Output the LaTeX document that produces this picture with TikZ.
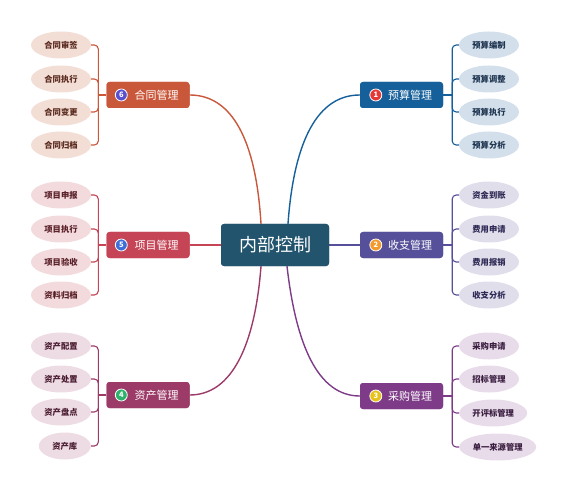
\documentclass[tikz,border=0pt]{standalone}
\usepackage{fontspec}
\newfontfamily\cjk{Noto Sans CJK SC}
\usetikzlibrary{shapes.geometric}
\definecolor{cCenter}{HTML}{22546E}
\definecolor{cA}{HTML}{15609A}\definecolor{lA}{HTML}{D3DFEB}\definecolor{tA}{HTML}{1F3550}
\definecolor{cB}{HTML}{56509A}\definecolor{lB}{HTML}{E1DEEC}\definecolor{tB}{HTML}{2E2A55}
\definecolor{cC}{HTML}{7E3C88}\definecolor{lC}{HTML}{E9DCEA}\definecolor{tC}{HTML}{3A1E40}
\definecolor{cF}{HTML}{C9573A}\definecolor{lF}{HTML}{F3DED6}\definecolor{tF}{HTML}{5A2A1E}
\definecolor{cE}{HTML}{C54455}\definecolor{lE}{HTML}{F2DADD}\definecolor{tE}{HTML}{5A2028}
\definecolor{cD}{HTML}{9C3B68}\definecolor{lD}{HTML}{EEDCE4}\definecolor{tD}{HTML}{4A1C30}
\definecolor{n1}{HTML}{E53935}\definecolor{n2}{HTML}{F39A2B}\definecolor{n3}{HTML}{E8C21A}
\definecolor{n4}{HTML}{2DB36B}\definecolor{n5}{HTML}{3E6FD8}\definecolor{n6}{HTML}{5A4FCF}
\tikzset{
  centerbox/.style={rectangle, rounded corners=3pt, fill=cCenter, minimum width=108pt, minimum height=42pt, inner sep=0pt, text=white, font=\cjk\fontsize{18}{20}\selectfont},
  branchbox/.style={rectangle, rounded corners=3pt, fill=#1, minimum width=83pt, minimum height=26pt, inner sep=0pt},
  branchlabel/.style={anchor=west, inner sep=0pt, text=white, font=\cjk\fontsize{11}{13}\selectfont},
  numdot/.style={circle, fill=#1, draw=white, line width=0.8pt, minimum size=12pt, inner sep=0pt, text=white, font=\cjk\bfseries\fontsize{7.5}{8}\selectfont},
  leaf/.style={ellipse, fill=#1, minimum width=60pt, minimum height=27pt, inner sep=0pt, font=\cjk\bfseries\fontsize{8.3}{9}\selectfont},
  trunk/.style={draw=#1, line width=1.4pt},
  twig/.style={draw=#1, line width=1.1pt, rounded corners=4pt},
}
\begin{document}
\begin{tikzpicture}[x=1pt, y=-1pt]
\useasboundingbox (0,0) rectangle (567,494);
% node positions
\node[centerbox] (c) at (275,245) {内部控制};
\node[branchbox=cA] (b1) at (401.5,95) {};
\node[branchbox=cB] (b2) at (401.5,245) {};
\node[branchbox=cC] (b3) at (401.5,396) {};
\node[branchbox=cF] (b6) at (148,95) {};
\node[branchbox=cE] (b5) at (148,245) {};
\node[branchbox=cD] (b4) at (148,395) {};
% trunks
\draw[trunk=cA] ([xshift=13pt]c.north) .. controls (294,140) and (318,95) .. (b1.west);
\draw[trunk=cF] ([xshift=-14pt]c.north) .. controls (256,140) and (232,95) .. (b6.east);
\draw[trunk=cC] ([xshift=12pt]c.south) .. controls (296,345) and (318,396) .. (b3.west);
\draw[trunk=cD] ([xshift=-14pt]c.south) .. controls (255,345) and (232,395) .. (b4.east);
\draw[trunk=cB] (c.east) -- (b2.west);
\draw[trunk=cE] (c.west) -- (b5.east);
% redraw boxes on top of the trunks
\node[centerbox] at (c) {内部控制};
\node[branchbox=cA] at (b1) {};
\node[branchbox=cB] at (b2) {};
\node[branchbox=cC] at (b3) {};
\node[branchbox=cF] at (b6) {};
\node[branchbox=cE] at (b5) {};
\node[branchbox=cD] at (b4) {};
% number dots and labels
\node[numdot=n1] at ([xshift=16pt]b1.west) {1};
\node[branchlabel] at ([xshift=28pt]b1.west) {预算管理};
\node[numdot=n2] at ([xshift=16pt]b2.west) {2};
\node[branchlabel] at ([xshift=28pt]b2.west) {收支管理};
\node[numdot=n3] at ([xshift=16pt]b3.west) {3};
\node[branchlabel] at ([xshift=28pt]b3.west) {采购管理};
\node[numdot=n6] at ([xshift=15pt]b6.west) {6};
\node[branchlabel] at ([xshift=28pt]b6.west) {合同管理};
\node[numdot=n5] at ([xshift=15pt]b5.west) {5};
\node[branchlabel] at ([xshift=28pt]b5.west) {项目管理};
\node[numdot=n4] at ([xshift=15pt]b4.west) {4};
\node[branchlabel] at ([xshift=28pt]b4.west) {资产管理};
% leaves right
\node[leaf=lA, text=tA] (a1) at (489,45) {预算编制};
\node[leaf=lA, text=tA] (a2) at (489,79) {预算调整};
\node[leaf=lA, text=tA] (a3) at (489,112) {预算执行};
\node[leaf=lA, text=tA] (a4) at (489,145) {预算分析};
\node[leaf=lB, text=tB] (s1) at (489,195) {资金到账};
\node[leaf=lB, text=tB] (s2) at (489,229) {费用申请};
\node[leaf=lB, text=tB] (s3) at (489,262) {费用报销};
\node[leaf=lB, text=tB] (s4) at (489,295) {收支分析};
\node[leaf=lC, text=tC] (p1) at (489,346) {采购申请};
\node[leaf=lC, text=tC] (p2) at (489,379) {招标管理};
\node[leaf=lC, text=tC, minimum width=68pt, anchor=west] (p3) at (459,413) {开评标管理};
\node[leaf=lC, text=tC, minimum width=77pt, anchor=west] (p4) at (459,447) {单一来源管理};
% leaves left
\node[leaf=lF, text=tF] (h1) at (61,45) {合同审签};
\node[leaf=lF, text=tF] (h2) at (61,79) {合同执行};
\node[leaf=lF, text=tF] (h3) at (61,112) {合同变更};
\node[leaf=lF, text=tF] (h4) at (61,145) {合同归档};
\node[leaf=lE, text=tE] (x1) at (61,195) {项目申报};
\node[leaf=lE, text=tE] (x2) at (61,229) {项目执行};
\node[leaf=lE, text=tE] (x3) at (61,262) {项目验收};
\node[leaf=lE, text=tE] (x4) at (61,295) {资料归档};
\node[leaf=lD, text=tD] (z1) at (61,346) {资产配置};
\node[leaf=lD, text=tD] (z2) at (61,379) {资产处置};
\node[leaf=lD, text=tD] (z3) at (61,412) {资产盘点};
\node[leaf=lD, text=tD, minimum width=52pt, anchor=east] (z4) at (91,446) {资产库};
% brackets
\draw[twig=cA] (b1.east) -- ++(9,0) coordinate (j1);
\foreach \l in {a1,a2,a3,a4} \draw[twig=cA] (j1) |- (\l.west);
\draw[twig=cB] (b2.east) -- ++(9,0) coordinate (j2);
\foreach \l in {s1,s2,s3,s4} \draw[twig=cB] (j2) |- (\l.west);
\draw[twig=cC] (b3.east) -- ++(9,0) coordinate (j3);
\foreach \l in {p1,p2,p3,p4} \draw[twig=cC] (j3) |- (\l.west);
\draw[twig=cF] (b6.west) -- ++(-8,0) coordinate (j6);
\foreach \l in {h1,h2,h3,h4} \draw[twig=cF] (j6) |- (\l.east);
\draw[twig=cE] (b5.west) -- ++(-8,0) coordinate (j5);
\foreach \l in {x1,x2,x3,x4} \draw[twig=cE] (j5) |- (\l.east);
\draw[twig=cD] (b4.west) -- ++(-8,0) coordinate (j4);
\foreach \l in {z1,z2,z3,z4} \draw[twig=cD] (j4) |- (\l.east);
\end{tikzpicture}
\end{document}
